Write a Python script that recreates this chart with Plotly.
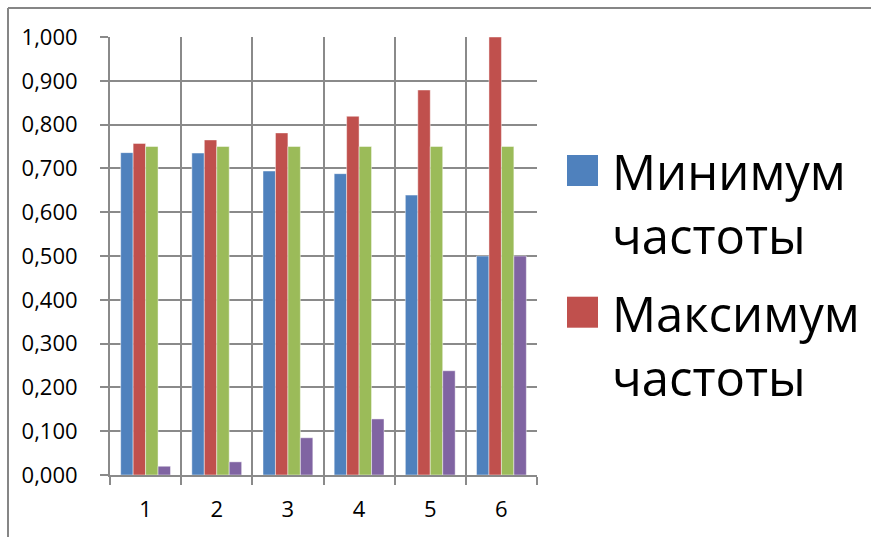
import plotly.graph_objects as go

# ---- data ----
categories = [1, 2, 3, 4, 5, 6]
series_names = ["Минимум частоты", "Максимум частоты", "Ряд 3", "Ряд 4"]
min_freq = [0.736, 0.735, 0.694, 0.688, 0.639, 0.500]
max_freq = [0.757, 0.765, 0.781, 0.819, 0.879, 1.000]
series3 = [0.750, 0.750, 0.750, 0.750, 0.750, 0.750]
series4 = [0.020, 0.030, 0.085, 0.128, 0.238, 0.500]
colors = ["#4F81BD", "#C0504D", "#9BBB59", "#8064A2"]
legend_shown = 2  # only the first two entries are visible in the legend
y_tickvals = [0.0, 0.1, 0.2, 0.3, 0.4, 0.5, 0.6, 0.7, 0.8, 0.9, 1.0]

W, H = 871, 537
L, R, T, B = 110, 334, 37, 62
pw, ph = W - L - R, H - T - B

def px_x(p):
    return (p - L) / pw

def px_y(p):
    return (H - B - p) / ph

FONT = "Open Sans"
GRID = "#8A8A8A"

fig = go.Figure()
for name, vals, col in zip(series_names, [min_freq, max_freq, series3, series4], colors):
    fig.add_trace(go.Bar(
        x=categories, y=vals, name=name,
        marker=dict(color=col, line=dict(color="rgba(255,255,255,0.45)", width=1)),
        showlegend=False,
    ))

shapes = []
# outer chart-area border (top and left visible)
shapes.append(dict(type="line", xref="paper", yref="paper",
                   x0=px_x(8), x1=px_x(W + 5), y0=px_y(8), y1=px_y(8),
                   line=dict(color="#868686", width=2)))
shapes.append(dict(type="line", xref="paper", yref="paper",
                   x0=px_x(8), x1=px_x(8), y0=px_y(8), y1=px_y(H + 5),
                   line=dict(color="#868686", width=2)))

annotations = []
for i in range(legend_shown):
    top = 155 + i * 141.7
    shapes.append(dict(type="rect", xref="paper", yref="paper",
                       x0=px_x(567), x1=px_x(598), y0=px_y(top), y1=px_y(top + 31),
                       fillcolor=colors[i], line=dict(width=0)))
    annotations.append(dict(
        xref="paper", yref="paper", x=px_x(610), y=px_y(top + 48),
        xanchor="left", yanchor="middle", showarrow=False, align="left",
        text=series_names[i].replace(" ", "<br>"),
        font=dict(family=FONT, size=49, color="#000000"),
    ))

fig.update_layout(
    width=W, height=H,
    margin=dict(l=L, r=R, t=T, b=B, pad=0),
    paper_bgcolor="white", plot_bgcolor="white",
    barmode="group", bargap=0.3, bargroupgap=0,
    separators=", ",
    font=dict(family=FONT, size=22, color="#000000"),
    shapes=shapes, annotations=annotations,
    showlegend=False,
)
fig.update_xaxes(
    range=[0.5, 6.5], tickmode="array", tickvals=categories,
    ticktext=[str(c) for c in categories],
    showgrid=False, ticks="", ticklabelstandoff=14,
    showline=True, linecolor=GRID, linewidth=2,
    tickfont=dict(family=FONT, size=22),
    minor=dict(tickmode="linear", tick0=0.5, dtick=1, showgrid=True,
               gridcolor=GRID, gridwidth=2, ticks="outside", ticklen=8,
               tickcolor=GRID, tickwidth=2),
    zeroline=False, fixedrange=True,
)
fig.update_yaxes(
    range=[0, 1.0], tickmode="array", tickvals=y_tickvals, tickformat=".3f",
    showgrid=True, gridcolor=GRID, gridwidth=2,
    ticks="outside", ticklen=8, tickcolor=GRID, tickwidth=2,
    ticklabelstandoff=18,
    showline=True, linecolor=GRID, linewidth=2,
    tickfont=dict(family=FONT, size=22),
    zeroline=False, fixedrange=True,
)

fig.write_html("out.html")
